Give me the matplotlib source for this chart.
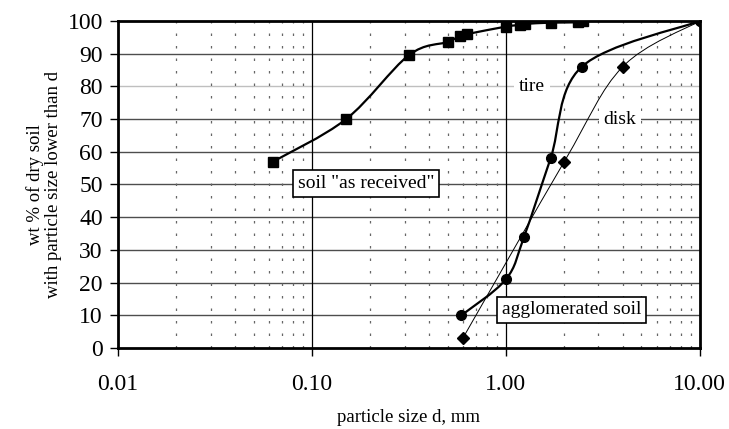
import numpy as np
import matplotlib.pyplot as plt
from matplotlib.path import Path
from matplotlib.patches import PathPatch

plt.rcParams['font.family'] = ['Liberation Serif', 'DejaVu Serif']

# soil "as received" (squares)
soil_d = [0.063, 0.15, 0.315, 0.5, 0.58, 0.63, 1.0, 1.18, 1.25, 1.7, 2.36, 2.5]
soil_wt = [57, 70, 89.5, 93.6, 95.5, 96.0, 98.3, 98.8, 99.1, 99.5, 99.6, 100]

# agglomerated soil, tire (circles)
tire_d = [0.59, 1.0, 1.24, 1.7, 2.46, 10.0]
tire_wt = [10, 21, 34, 58, 86, 100]

# agglomerated soil, disk (diamonds)
disk_d = [0.6, 2.0, 4.0, 10.0]
disk_wt = [3, 57, 86, 100]

y_ticks = list(range(0, 101, 10))
x_ticks = [0.01, 0.1, 1, 10]
x_ticklabels = ['0.01', '0.10', '1.00', '10.00']


def smooth_path(xs, ys):
    # Excel-like smoothed line: Catmull-Rom segments as cubic beziers in log-x space
    lx = np.log10(np.asarray(xs, float))
    y = np.asarray(ys, float)
    n = len(lx)
    pts = np.column_stack([lx, y])
    verts = [(xs[0], ys[0])]
    codes = [Path.MOVETO]
    for i in range(n - 1):
        p0 = pts[max(i - 1, 0)]
        p1 = pts[i]
        p2 = pts[i + 1]
        p3 = pts[min(i + 2, n - 1)]
        c1 = p1 + (p2 - p0) / 6
        c2 = p2 - (p3 - p1) / 6
        verts += [(10 ** c1[0], c1[1]), (10 ** c2[0], c2[1]), (xs[i + 1], ys[i + 1])]
        codes += [Path.CURVE4] * 3
    return Path(verts, codes)


fig = plt.figure(figsize=(7.29, 4.29), dpi=100)
ax = fig.add_axes([0.162, 0.189, 0.798, 0.762])
ax.set_xscale('log')
ax.set_xlim(0.01, 10)
ax.set_ylim(0, 100)

# grid
for yv in y_ticks[1:-1]:
    ax.axhline(yv, color='0.75' if yv == 80 else '0.3', lw=1.0, zorder=1)
for dec in [0.01, 0.1, 1]:
    for m in range(2, 10):
        ax.axvline(dec * m, color='0.4', lw=0.9, ls=(0, (2, 8)), zorder=1)
for xv in [0.1, 1]:
    ax.axvline(xv, color='black', lw=0.9, zorder=1)

# curves
ax.add_patch(PathPatch(smooth_path(soil_d, soil_wt), fill=False, lw=1.6,
                       edgecolor='black', transform=ax.transData, zorder=3))
ax.add_patch(PathPatch(smooth_path(tire_d, tire_wt), fill=False, lw=1.6,
                       edgecolor='black', transform=ax.transData, zorder=3))
ax.add_patch(PathPatch(smooth_path(disk_d, disk_wt), fill=False, lw=0.7,
                       edgecolor='black', transform=ax.transData, zorder=3))
ax.plot(soil_d, soil_wt, ls='none', marker='s', ms=7.5, color='black', zorder=4)
ax.plot(tire_d, tire_wt, ls='none', marker='o', ms=7, color='black', zorder=4)
ax.plot(disk_d, disk_wt, ls='none', marker='D', ms=6, color='black', zorder=4)

# labels
box = dict(boxstyle='square,pad=0.25', fc='white', ec='black', lw=1.2)
ax.text(0.19, 50.2, 'soil "as received"', fontsize=14, ha='center', va='center',
        bbox=box, zorder=5)
ax.text(2.19, 11.6, 'agglomerated soil', fontsize=14, ha='center', va='center',
        bbox=box, zorder=5)
ax.text(1.36, 80, 'tire', fontsize=14, ha='center', va='center',
        bbox=dict(boxstyle='square,pad=0.25', fc='white', ec='none'), zorder=2)
ax.text(3.87, 70, 'disk', fontsize=14, ha='center', va='center',
        bbox=dict(boxstyle='square,pad=0.25', fc='white', ec='none'), zorder=2)

# axes style
for s in ax.spines.values():
    s.set_linewidth(2.0)
ax.set_yticks(y_ticks)
ax.set_xticks(x_ticks)
ax.set_xticklabels(x_ticklabels)
ax.xaxis.set_minor_locator(plt.NullLocator())
ax.tick_params(axis='both', labelsize=17, direction='out', length=6, width=1.0)
ax.tick_params(axis='x', pad=13)
ax.tick_params(axis='y', pad=5)

ax.set_xlabel('particle size d, mm', fontsize=13.5, labelpad=10)
ax.set_ylabel('wt % of dry soil\nwith particle size lower than d', fontsize=13.5,
              labelpad=4, linespacing=1.05)

fig.savefig('out.png', dpi=100)
